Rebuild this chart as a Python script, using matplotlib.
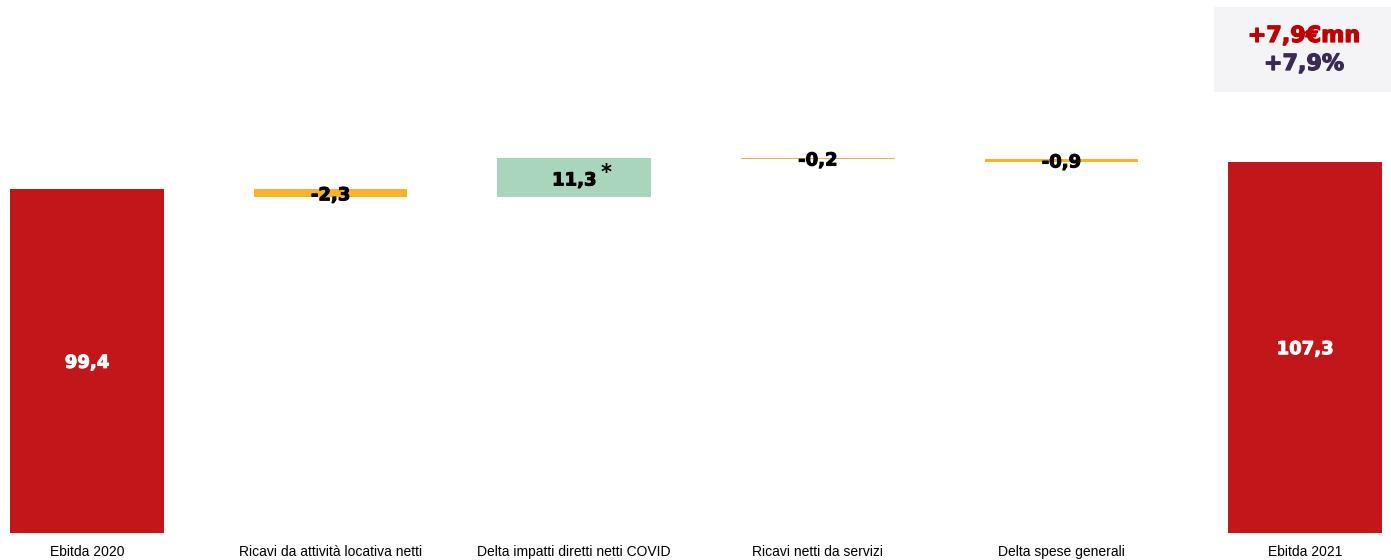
import matplotlib
matplotlib.use("Agg")
import matplotlib.pyplot as plt
import matplotlib.patheffects as pe
import matplotlib.transforms as mtrans
import numpy as np

categories = ["Ebitda 2020", "Ricavi da attività locativa netti", "Delta impatti diretti netti COVID",
              "Ricavi netti da servizi", "Delta spese generali", "Ebitda 2021"]
values = [99.4, -2.3, 11.3, -0.2, -0.9, 107.3]
labels = ["99,4", "-2,3", "11,3", "-0,2", "-0,9", "107,3"]
kinds = ["total", "delta", "delta", "delta", "delta", "total"]
delta_abs_text = "+7,9€mn"
delta_pct_text = "+7,9%"

RED = "#c1171b"
ORANGE = "#f9b22a"
GREEN = "#a9d5bc"

fig = plt.figure(figsize=(13.91, 5.60), dpi=100)
ax = fig.add_axes([0, 27/560, 1, 533/560])
ax.set_xlim(-87/243.6, (1391-87)/243.6)
ax.set_ylim(0, 533/3.458)

def heavy(c, lw=0.7):
    return [pe.withStroke(linewidth=lw, foreground=c)]

x = np.arange(len(categories))
width = 0.63
running = 0.0
for i, (v, k) in enumerate(zip(values, kinds)):
    if k == "total":
        ax.bar(x[i], v, width=width, bottom=0, color=RED, linewidth=0)
        ax.text(x[i], v/2 - 0.5, labels[i], ha="center", va="center", color="white",
                fontsize=13, fontweight="bold", path_effects=heavy("white"))
        running = v
    else:
        bottom = running + min(v, 0)
        color = GREEN if v > 0 else ORANGE
        ax.bar(x[i], abs(v), width=width, bottom=bottom, color=color, linewidth=0)
        mid = bottom + abs(v)/2
        if v > 0:
            ax.text(x[i], mid - 0.8, labels[i], ha="center", va="center", color="black",
                    fontsize=13, fontweight="bold", path_effects=heavy("black"))
            ax.text(x[i] + 0.13, mid + 1.4, "*", ha="center", va="center", color="black",
                    fontsize=15, fontweight="bold")
        else:
            ax.text(x[i], mid - 0.6, labels[i], ha="center", va="center", color="black",
                    fontsize=13, fontweight="bold", path_effects=heavy("black"))
        running += v

# category labels on a common baseline
ax.set_xticks([])
ax.set_yticks([])
trans = mtrans.blended_transform_factory(ax.transData, fig.transFigure)
for xi, cat in zip(x, categories):
    ax.text(xi, 1 - 556/560, cat, transform=trans, ha="center", va="baseline",
            fontsize=10, family="Liberation Sans", color="black")
for s in ax.spines.values():
    s.set_visible(False)

# summary box
fig.patches.append(matplotlib.patches.Rectangle((1214/1391, 1-92/560), (1391-1214)/1391, 85/560,
                   transform=fig.transFigure, facecolor="#f4f4f7", edgecolor="none", zorder=0))
fig.text(1304/1391, 1-36/560, delta_abs_text, ha="center", va="center", color="#c00000",
         fontsize=16, fontweight="bold", path_effects=heavy("#c00000", 0.9))
fig.text(1304/1391, 1-64/560, delta_pct_text, ha="center", va="center", color="#3b2a55",
         fontsize=16, fontweight="bold", path_effects=heavy("#3b2a55", 0.9))

fig.savefig("out.png", dpi=100)
